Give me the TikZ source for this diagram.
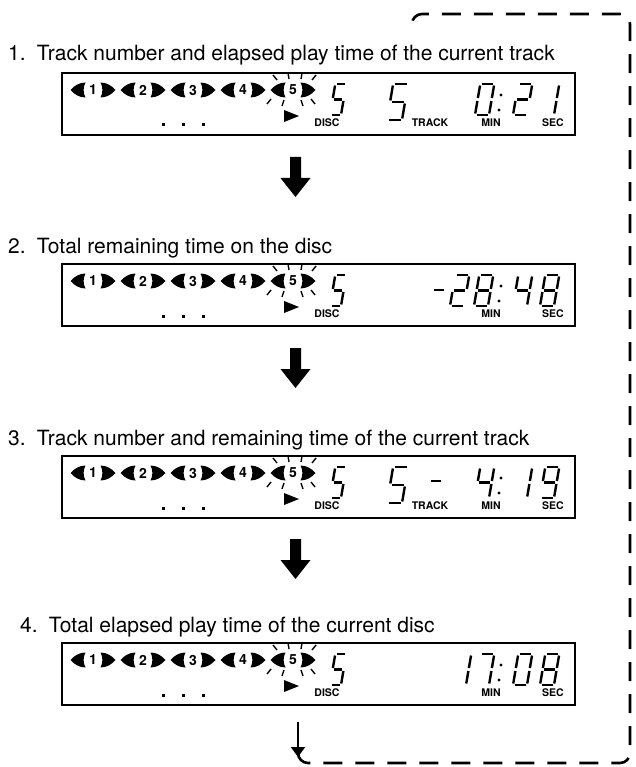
\documentclass[tikz,border=0pt]{standalone}
\usepackage{fontspec}
\setmainfont{TeX Gyre Heros}
\usetikzlibrary{arrows.meta}
\def\sga{\draw[seg] (1.5,-\segH) -- (\segW-1.5,-\segH);}
\def\sgb{\draw[seg] (\segW,-\segH+1.5) -- (\segW,-\segH/2-1.5);}
\def\sgc{\draw[seg] (\segW,-\segH/2+1.5) -- (\segW,-1.5);}
\def\sgd{\draw[seg] (1.5,0) -- (\segW-1.5,0);}
\def\sge{\draw[seg] (0,-1.5) -- (0,-\segH/2+1.5);}
\def\sgf{\draw[seg] (0,-\segH/2-1.5) -- (0,-\segH+1.5);}
\def\sgg{\draw[seg] (1.5,-\segH/2) -- (\segW-1.5,-\segH/2);}
\newcommand\sevseg[5]{\begin{scope}[shift={(#1,#2)},xslant=0.17]\def\segW{#3}\def\segH{#4}\foreach \sn in {#5}{\csname sg\sn\endcsname}\end{scope}}
\newcommand\indic[4]{%
 \fill (#1-7.5,#2-7.5) .. controls (#1-14,#2-7.5) and (#1-19,#2-4) .. (#1-22.5,#2) .. controls (#1-19,#2+4) and (#1-14,#2+7.5) .. (#1-7.5,#2+7.5) .. controls (#1-10,#2+3) and (#1-10,#2-3) .. cycle;
 \fill (#1+7.5,#2-7.5) .. controls (#1+14,#2-7.5) and (#1+19,#2-4) .. (#1+22.5,#2) .. controls (#1+19,#2+4) and (#1+14,#2+7.5) .. (#1+7.5,#2+7.5) .. controls (#1+10,#2+3) and (#1+10,#2-3) .. cycle;
 \node[inddig] (#4) at (#1,#2) {#3};}
\newcommand\display[2]{%
 \node[dispbox] (#2) at (318.5,#1+31) {};
 \foreach \k in {1,...,5} {\indic{43+50*\k}{#1+17}{\k}{#2i\k}}
 \begin{scope}[shift={(293,#1+17)}]
  \draw[ray] (-16,-10) -- (-20,-15); \draw[ray] (-4,-11) -- (-5,-17);
  \draw[ray] (8,-11) -- (9,-17);     \draw[ray] (19,-10) -- (23,-15);
  \draw[ray] (-22,9) -- (-26,14);    \draw[ray] (-9,10) -- (-11,16);
  \draw[ray] (8,10) -- (10,16);      \draw[ray] (18,9) -- (22,14);
 \end{scope}
 \foreach \dx in {163,183,203} {\fill (\dx-1.5,#1+50.5) rectangle (\dx+1.5,#1+53.5);}
 \fill (284,#1+37) -- (299,#1+43) -- (284,#1+49) -- cycle;
 \sevseg{330}{#1+42}{11}{31}{a,f,g,c,d}
 \node[lab] (#2disc) at (327,#1+49.5) {DISC};
 \node[lab] (#2min) at (491,#1+49.5) {MIN};
 \node[lab] (#2sec) at (553,#1+49.5) {SEC};
 \fill (501,#1+22) circle (1.6);
 \fill (499,#1+37) circle (1.6);
}
\begin{document}
\begin{tikzpicture}[x=1pt,y=-1pt,
  seg/.style={line width=2.4pt,line cap=butt},
  dispbox/.style={draw,line width=2pt,minimum width=513pt,minimum height=62pt,inner sep=0pt},
  lab/.style={font=\fontsize{10.5}{10.5}\selectfont\bfseries,inner sep=0pt},
  inddig/.style={font=\fontsize{14}{14}\selectfont\bfseries,inner sep=0pt},
  ttl/.style={font=\fontsize{21}{25}\selectfont,anchor=base west,inner sep=0pt},
  ray/.style={line width=1.4pt},
  backpath/.style={line width=2.6pt,dash pattern=on 19pt off 13pt,rounded corners=10pt},
  bigarr/.style={fill=black}]
\fill[white] (0,0) rectangle (635,767);
\useasboundingbox (0,0) rectangle (635,767);

% titles
\node[ttl] (t1) at (8,61) {1.\, Track number and elapsed play time of the current track};
\node[ttl] (t2) at (8,253) {2.\, Total remaining time on the disc};
\node[ttl] (t3) at (8,445) {3.\, Track number and remaining time of the current track};
\node[ttl] (t4) at (20,632) {4.\, Total elapsed play time of the current disc};

% display 1
\display{73}{b1}
\sevseg{387}{73+47}{15}{36}{a,f,g,c,d}
\node[lab] (b1track) at (430,73+49.5) {TRACK};
\sevseg{475}{73+42}{14}{31}{a,b,c,d,e,f}
\sevseg{513}{73+42}{14}{31}{a,b,g,e,d}
\sevseg{540}{73+42}{14}{31}{b,c}

% display 2
\display{264}{b2}
\draw[seg] (434,264+26) -- (444,264+26);
\sevseg{450}{264+42}{14}{31}{a,b,g,e,d}
\sevseg{474}{264+42}{14}{31}{a,b,c,d,e,f,g}
\sevseg{513}{264+42}{14}{31}{f,g,b,c}
\sevseg{540}{264+42}{14}{31}{a,b,c,d,e,f,g}

% display 3
\display{456}{b3}
\sevseg{387}{456+47}{15}{36}{a,f,g,c,d}
\node[lab] (b3track) at (430,456+49.5) {TRACK};
\draw[seg] (431,456+25) -- (441,456+25);
\sevseg{475}{456+42}{14}{31}{f,g,b,c}
\sevseg{513}{456+42}{14}{31}{b,c}
\sevseg{540}{456+42}{14}{31}{a,b,c,d,f,g}

% display 4
\display{643}{b4}
\sevseg{452}{643+42}{14}{31}{b,c}
\sevseg{475}{643+42}{14}{31}{a,b,c}
\sevseg{513}{643+42}{14}{31}{a,b,c,d,e,f}
\sevseg{540}{643+42}{14}{31}{a,b,c,d,e,f,g}

% thick arrows
\foreach \tp in {157,348,539} {
 \fill[bigarr] (290,\tp) -- (301,\tp) -- (301,\tp+21) -- (310.5,\tp+21) -- (295.5,\tp+40) -- (280.5,\tp+21) -- (290,\tp+21) -- cycle;}

% return path
\coordinate (ta) at (298,722);
\coordinate (tb) at (298,757);
\coordinate (p1) at (298,763);
\coordinate (p2) at (630,763);
\coordinate (p3) at (630,14);
\coordinate (p4) at (412,14);
\coordinate (p5) at (412,28);
\draw[backpath] (298,752) -- (p1) -- (p2) -- (p3) -- (p4) -- (p5);
\draw[line width=2pt,-{Triangle[width=14pt,length=10pt]}] (ta) -- (tb);
\end{tikzpicture}
\end{document}
